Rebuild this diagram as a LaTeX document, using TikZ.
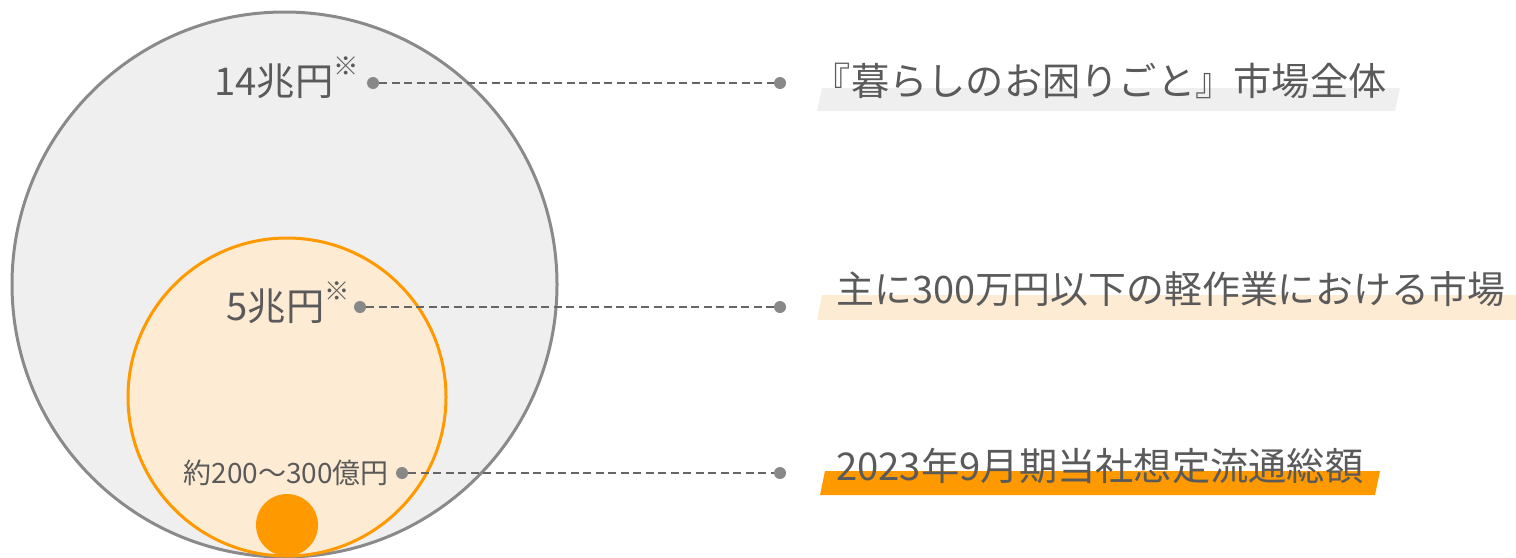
\documentclass[tikz,border=0pt]{standalone}
\usepackage{fontspec}
\setmainfont{Noto Sans CJK JP}
\definecolor{txt}{HTML}{5A5A5A}
\definecolor{ring}{HTML}{8A8A8A}
\definecolor{bgray}{HTML}{EFEFEF}
\definecolor{orng}{HTML}{FF9900}
\definecolor{lorng}{HTML}{FDEBD3}
\definecolor{dashc}{HTML}{666666}
\definecolor{dotc}{HTML}{888888}
\tikzset{
  dotmark/.style={circle,fill=dotc,inner sep=0pt,minimum size=12*0.75pt},
  leader/.style={draw=dashc,line width=2*0.75pt,dash pattern=on 8*0.75pt off 4.5*0.75pt},
  bigtxt/.style={text=txt,inner sep=0pt,font=\fontsize{28.7pt}{31pt}\selectfont},
  smalltxt/.style={text=txt,inner sep=0pt,font=\fontsize{21pt}{24pt}\selectfont},
}
\begin{document}
\begin{tikzpicture}[x=0.75pt,y=-0.75pt]
\useasboundingbox (0,0) rectangle (1516,557);
% circles
\node[circle,draw=ring,fill=bgray,line width=3*0.75pt,minimum size=545*0.75pt,inner sep=0pt] (outer) at (284.5,284.5) {};
\node[circle,draw=orng,fill=lorng,line width=3*0.75pt,minimum size=318*0.75pt,inner sep=0pt] (mid) at (287,397) {};
\node[circle,fill=orng,minimum size=62*0.75pt,inner sep=0pt] (core) at (287,525) {};
% bands
\fill[bgray] (822,88) -- (1400,88) -- (1395,111) -- (817,111) -- cycle;
\fill[lorng] (822,295) -- (1516,295) -- (1516,320) -- (817,320) -- cycle;
\fill[orng] (825,471) -- (1380,471) -- (1375,495) -- (820,495) -- cycle;
% dots
\node[dotmark] (l1) at (373,83) {};
\node[dotmark] (r1) at (780,83) {};
\node[dotmark] (l2) at (360,307) {};
\node[dotmark] (r2) at (780,307) {};
\node[dotmark] (l3) at (402,473) {};
\node[dotmark] (r3) at (780,473) {};
\draw[leader] (l1) -- (r1);
\draw[leader] (l2) -- (r2);
\draw[leader] (l3) -- (r3);
% left labels
\node[bigtxt,anchor=base east] (v1) at (359,95) {14兆円\raisebox{0.5em}{\fontsize{19pt}{19pt}\selectfont ※}};
\node[bigtxt,anchor=base east] (v2) at (350,320) {5兆円\raisebox{0.5em}{\fontsize{19pt}{19pt}\selectfont ※}};
\node[smalltxt,anchor=base east] (v3) at (389,483) {約200〜300億円};
% right labels
\node[bigtxt,anchor=base east] (t1) at (1387,95) {『暮らしのお困りごと』市場全体};
\node[bigtxt,anchor=base west,font=\fontsize{28.4pt}{31pt}\selectfont] (t2) at (836,303) {主に300万円以下の軽作業における市場};
\node[bigtxt,anchor=base west] (t3) at (836,480) {2023年9月期当社想定流通総額};
\end{tikzpicture}
\end{document}
